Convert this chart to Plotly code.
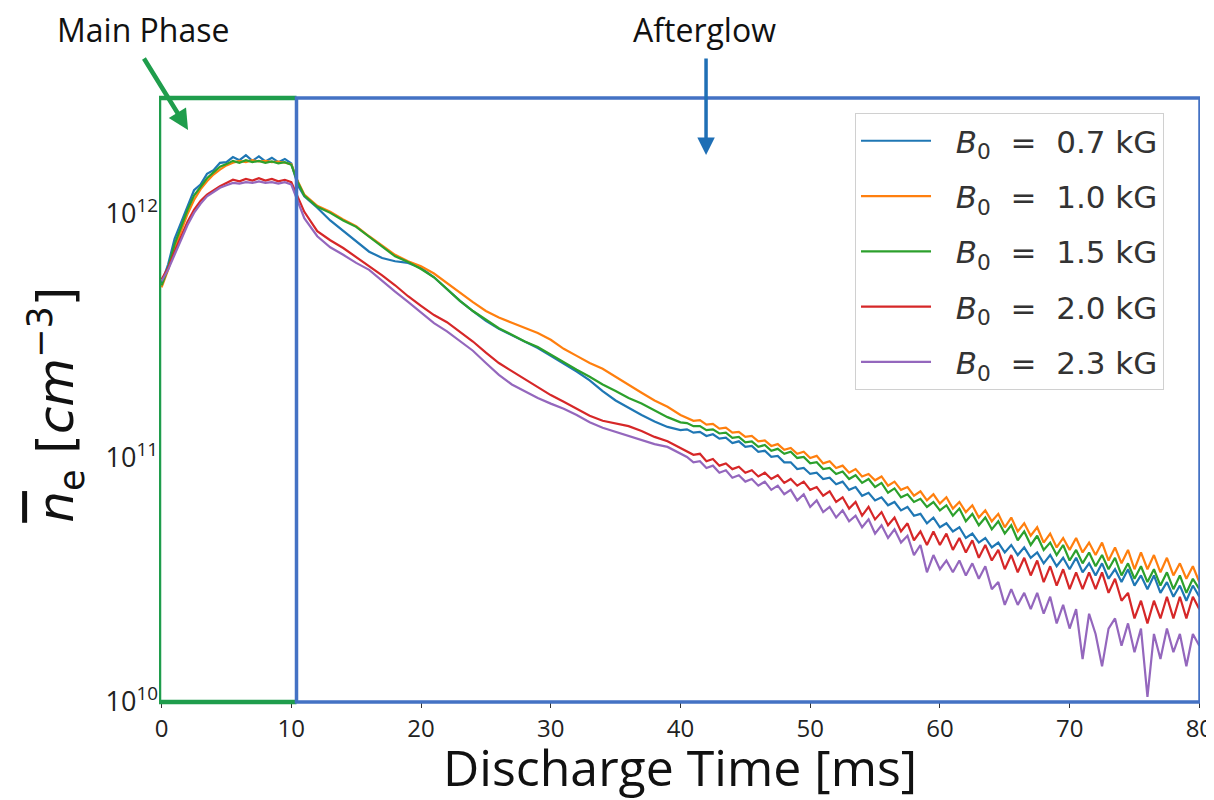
import plotly.graph_objects as go

# Discharge time grid [ms]
time_ms = [0, 0.5, 1, 1.5, 2, 2.5, 3, 3.5, 4, 4.5, 5, 5.5, 6, 6.5, 7, 7.5, 8, 8.5, 9, 9.5, 10, 10.5,
           11, 12, 13, 14, 15, 16, 17, 18, 19, 20, 21, 22, 23, 24, 25, 26, 27, 28, 29, 30,
           31, 32, 33, 34, 35, 36, 37, 38, 39, 40,
           40.5, 41, 41.5, 42, 42.5, 43, 43.5, 44, 44.5, 45, 45.5, 46, 46.5, 47, 47.5, 48, 48.5, 49, 49.5, 50,
           50.5, 51, 51.5, 52, 52.5, 53, 53.5, 54, 54.5, 55, 55.5, 56, 56.5, 57, 57.5, 58, 58.5, 59, 59.5, 60,
           60.5, 61, 61.5, 62, 62.5, 63, 63.5, 64, 64.5, 65, 65.5, 66, 66.5, 67, 67.5, 68, 68.5, 69, 69.5, 70,
           70.5, 71, 71.5, 72, 72.5, 73, 73.5, 74, 74.5, 75, 75.5, 76, 76.5, 77, 77.5, 78, 78.5, 79, 79.5, 80]

# line-averaged electron density, in units of 1e11 cm^-3
ne_07 = [5.2, 6.2, 7.9, 9.2, 10.8, 12.5, 13.2, 14.6, 15.1, 16.2, 16.3, 17.1, 16.6, 17.4, 16.5, 17.2, 16.4, 17.0, 16.3, 16.8, 16.1, 13.1,
         11.8, 10.6, 9.4, 8.5, 7.7, 7.0, 6.6, 6.4, 6.3, 6.0, 5.5, 4.9, 4.4, 4.0, 3.65, 3.38, 3.18, 2.98, 2.82, 2.62,
         2.44, 2.26, 2.08, 1.88, 1.72, 1.60, 1.50, 1.41, 1.34, 1.30,
         1.31, 1.27, 1.28, 1.23, 1.25, 1.20, 1.21, 1.15, 1.17, 1.11, 1.12, 1.06, 1.07, 1.01, 1.02, 0.96, 0.96, 0.90, 0.91, 0.86,
         0.87, 0.82, 0.83, 0.78, 0.80, 0.74, 0.76, 0.70, 0.72, 0.67, 0.69, 0.64, 0.66, 0.61, 0.63, 0.58, 0.59, 0.54, 0.57, 0.52,
         0.54, 0.50, 0.52, 0.47, 0.49, 0.45, 0.47, 0.43, 0.45, 0.41, 0.44, 0.40, 0.43, 0.39, 0.41, 0.37, 0.40, 0.36, 0.39, 0.35,
         0.39, 0.34, 0.37, 0.33, 0.37, 0.32, 0.35, 0.31, 0.35, 0.30, 0.33, 0.29, 0.33, 0.28, 0.31, 0.27, 0.30, 0.26, 0.30, 0.27]

ne_10 = [5.0, 5.9, 7.2, 8.5, 10.0, 11.4, 12.6, 13.6, 14.5, 15.2, 15.8, 16.2, 16.5, 16.3, 16.6, 16.4, 16.5, 16.3, 16.4, 16.2, 16.0, 13.6,
         12.0, 10.8, 10.2, 9.5, 8.9, 8.1, 7.4, 6.8, 6.4, 6.1, 5.7, 5.2, 4.75, 4.35, 4.0, 3.76, 3.58, 3.40, 3.25, 3.05,
         2.80, 2.62, 2.45, 2.32, 2.15, 1.98, 1.85, 1.72, 1.62, 1.50,
         1.46, 1.42, 1.43, 1.37, 1.38, 1.32, 1.33, 1.27, 1.28, 1.22, 1.23, 1.17, 1.18, 1.12, 1.14, 1.08, 1.10, 1.04, 1.06, 1.00,
         1.02, 0.95, 0.97, 0.91, 0.93, 0.87, 0.90, 0.84, 0.86, 0.81, 0.84, 0.77, 0.80, 0.74, 0.76, 0.70, 0.73, 0.67, 0.71, 0.65,
         0.69, 0.62, 0.66, 0.60, 0.64, 0.57, 0.61, 0.55, 0.59, 0.52, 0.57, 0.50, 0.54, 0.48, 0.52, 0.45, 0.49, 0.43, 0.47, 0.42,
         0.47, 0.41, 0.45, 0.40, 0.45, 0.38, 0.43, 0.37, 0.42, 0.35, 0.41, 0.35, 0.40, 0.34, 0.39, 0.33, 0.37, 0.32, 0.36, 0.31]

ne_15 = [5.1, 6.0, 7.5, 8.9, 10.4, 11.9, 12.9, 14.0, 14.8, 15.6, 16.0, 16.5, 16.2, 16.6, 16.3, 16.5, 16.2, 16.4, 16.1, 16.3, 15.9, 13.5,
         11.9, 10.7, 10.1, 9.4, 8.85, 8.05, 7.3, 6.7, 6.35, 5.95, 5.5, 4.9, 4.4, 4.0, 3.68, 3.4, 3.2, 3.0, 2.85, 2.65,
         2.48, 2.3, 2.15, 2.0, 1.88, 1.76, 1.67, 1.57, 1.47, 1.40,
         1.39, 1.35, 1.35, 1.30, 1.31, 1.26, 1.27, 1.21, 1.22, 1.16, 1.17, 1.11, 1.13, 1.07, 1.09, 1.04, 1.06, 1.00, 1.01, 0.95,
         0.96, 0.90, 0.91, 0.86, 0.88, 0.82, 0.85, 0.79, 0.82, 0.76, 0.79, 0.72, 0.75, 0.69, 0.71, 0.66, 0.68, 0.63, 0.66, 0.61,
         0.64, 0.58, 0.62, 0.55, 0.59, 0.53, 0.57, 0.51, 0.55, 0.49, 0.53, 0.46, 0.50, 0.44, 0.48, 0.42, 0.45, 0.40, 0.44, 0.38,
         0.42, 0.37, 0.41, 0.36, 0.40, 0.35, 0.39, 0.33, 0.37, 0.32, 0.36, 0.31, 0.35, 0.30, 0.34, 0.29, 0.33, 0.28, 0.32, 0.29]

ne_20 = [5.4, 6.0, 7.0, 8.0, 9.3, 10.4, 11.3, 12.0, 12.5, 13.0, 13.4, 13.8, 13.6, 13.9, 13.7, 14.0, 13.7, 13.9, 13.6, 13.8, 13.5, 11.7,
         10.2, 8.5, 7.8, 7.25, 6.67, 6.1, 5.6, 5.1, 4.6, 4.2, 3.85, 3.6, 3.3, 3.0, 2.7, 2.45, 2.27, 2.1, 1.95, 1.81,
         1.70, 1.59, 1.49, 1.42, 1.38, 1.35, 1.29, 1.22, 1.17, 1.10,
         1.07, 1.03, 1.04, 0.97, 0.99, 0.93, 0.95, 0.90, 0.92, 0.87, 0.89, 0.84, 0.87, 0.82, 0.85, 0.79, 0.82, 0.77, 0.80, 0.74,
         0.76, 0.70, 0.73, 0.66, 0.69, 0.62, 0.66, 0.58, 0.63, 0.56, 0.60, 0.53, 0.57, 0.50, 0.54, 0.46, 0.50, 0.44, 0.50, 0.44,
         0.49, 0.42, 0.47, 0.41, 0.46, 0.39, 0.44, 0.38, 0.42, 0.35, 0.40, 0.34, 0.39, 0.33, 0.38, 0.31, 0.36, 0.30, 0.35, 0.29,
         0.34, 0.29, 0.34, 0.29, 0.34, 0.28, 0.32, 0.26, 0.28, 0.22, 0.26, 0.21, 0.26, 0.22, 0.27, 0.22, 0.27, 0.22, 0.27, 0.24]

ne_23 = [5.3, 5.9, 6.8, 7.8, 9.0, 10.1, 11.0, 11.8, 12.3, 12.8, 13.1, 13.4, 13.3, 13.5, 13.4, 13.6, 13.4, 13.5, 13.3, 13.5, 13.2, 11.2,
         9.6, 8.1, 7.3, 6.8, 6.3, 5.9, 5.3, 4.8, 4.36, 3.93, 3.57, 3.3, 3.0, 2.75, 2.45, 2.19, 2.0, 1.88, 1.76, 1.67,
         1.59, 1.50, 1.40, 1.33, 1.28, 1.23, 1.19, 1.14, 1.11, 1.04,
         1.01, 0.96, 0.97, 0.91, 0.93, 0.87, 0.89, 0.83, 0.85, 0.80, 0.82, 0.77, 0.80, 0.74, 0.77, 0.71, 0.74, 0.67, 0.71, 0.63,
         0.67, 0.60, 0.63, 0.57, 0.61, 0.55, 0.58, 0.52, 0.56, 0.49, 0.53, 0.47, 0.51, 0.45, 0.48, 0.40, 0.44, 0.34, 0.40, 0.35,
         0.38, 0.34, 0.38, 0.33, 0.37, 0.32, 0.36, 0.29, 0.31, 0.25, 0.29, 0.25, 0.28, 0.24, 0.28, 0.23, 0.27, 0.21, 0.25, 0.20,
         0.24, 0.15, 0.23, 0.19, 0.14, 0.20, 0.22, 0.17, 0.21, 0.16, 0.20, 0.105, 0.19, 0.15, 0.20, 0.16, 0.19, 0.14, 0.19, 0.17]

NB = "\u00a0"
series_labels = [f"{NB}{NB}<i>B</i><sub>0</sub>{NB}{NB}={NB}{NB}{v}{NB}kG" for v in ["0.7", "1.0", "1.5", "2.0", "2.3"]]
series_values = [ne_07, ne_10, ne_15, ne_20, ne_23]
series_colors = ["#1f77b4", "#ff7f0e", "#2ca02c", "#d62728", "#9467bd"]

phase_boundary_ms = 10.4
x_min, x_max = -0.2, 80.05
y_tickvals = [1e10, 1e11, 1e12]
y_ticktext = ["10<sup>10</sup>", "10<sup>11</sup>", "10<sup>12</sup>"]
x_tickvals = [0, 10, 20, 30, 40, 50, 60, 70, 80]

UNIT = 1e11

fig = go.Figure()
for i, (lab, vals, col) in enumerate(zip(series_labels, series_values, series_colors)):
    fig.add_trace(go.Scatter(
        x=time_ms, y=[v * UNIT for v in vals], mode="lines", name=lab,
        line=dict(color=col, width=2.2), legendgroup=str(i)))

GREEN = "#1f9d4c"
BLUE = "#4472c4"
fig.add_shape(type="path", xref="x", yref="paper",
              path=f"M {phase_boundary_ms},1 L {x_min},1 L {x_min},0 L {phase_boundary_ms},0",
              line=dict(color=GREEN, width=4.5), layer="above")
fig.add_shape(type="rect", xref="x", yref="paper", x0=phase_boundary_ms, x1=x_max, y0=0, y1=1,
              line=dict(color=BLUE, width=3.5), fillcolor="rgba(0,0,0,0)", layer="above")

TXT = "Open Sans"
fig.add_annotation(xref="paper", yref="paper", x=-0.0154, y=1.1126, text="Main Phase", showarrow=False,
                   font=dict(family=TXT, size=32, color="#111"), xanchor="center", yanchor="middle")
fig.add_annotation(xref="paper", yref="paper", x=0.524, y=1.1126, text="Afterglow", showarrow=False,
                   font=dict(family=TXT, size=32, color="#111"), xanchor="center", yanchor="middle")
fig.add_annotation(xref="paper", yref="paper", x=0.0279, y=0.947, text="", showarrow=True,
                   axref="pixel", ayref="pixel", ax=-45, ay=-73, arrowcolor=GREEN, arrowwidth=4.5,
                   arrowhead=2, arrowsize=0.9)
fig.add_annotation(xref="paper", yref="paper", x=0.5255, y=0.9056, text="", showarrow=True,
                   axref="pixel", ayref="pixel", ax=0, ay=-98, arrowcolor="#1f6fb5", arrowwidth=3.5,
                   arrowhead=2, arrowsize=1.0)
fig.add_annotation(xref="paper", yref="paper", x=0.5, y=-0.108, text="Discharge Time [ms]", showarrow=False,
                   font=dict(family=TXT, size=50, color="#111"), xanchor="center", yanchor="middle")
fig.add_annotation(xref="paper", yref="paper", x=-0.099, y=0.492, textangle=-90,
                   text="<span style='text-decoration:overline'><i>n</i></span><sub>e</sub> [<i>cm</i><sup>−3</sup>]",
                   showarrow=False, font=dict(family="DejaVu Sans", size=50, color="#111"),
                   xanchor="center", yanchor="middle")

# the page body adds an 8px offset, so the figure is 8px smaller on top/left
fig.update_layout(
    width=1206, height=792,
    margin=dict(l=151, r=14, t=90, b=98),
    paper_bgcolor="white", plot_bgcolor="white",
    showlegend=True,
    legend=dict(x=0.6686, y=0.975, xanchor="left", yanchor="top",
                bgcolor="rgba(255,255,255,0.9)", bordercolor="#d0d0d0", borderwidth=1,
                font=dict(family="DejaVu Sans", size=31, color="#333"),
                tracegroupgap=12, itemwidth=70),
    xaxis=dict(range=[x_min, x_max], tickvals=x_tickvals, ticks="outside", ticklen=5, tickcolor="#333",
               showgrid=False, zeroline=False, showline=False, automargin=False,
               ticklabeloverflow="allow",
               tickfont=dict(family=TXT, size=24, color="#222")),
    yaxis=dict(type="log", range=[10, 12.475], tickvals=y_tickvals, ticktext=y_ticktext,
               ticks="", showgrid=False, zeroline=False, showline=False, automargin=False,
               tickfont=dict(family=TXT, size=27, color="#222")),
)

fig.write_html("out.html")
